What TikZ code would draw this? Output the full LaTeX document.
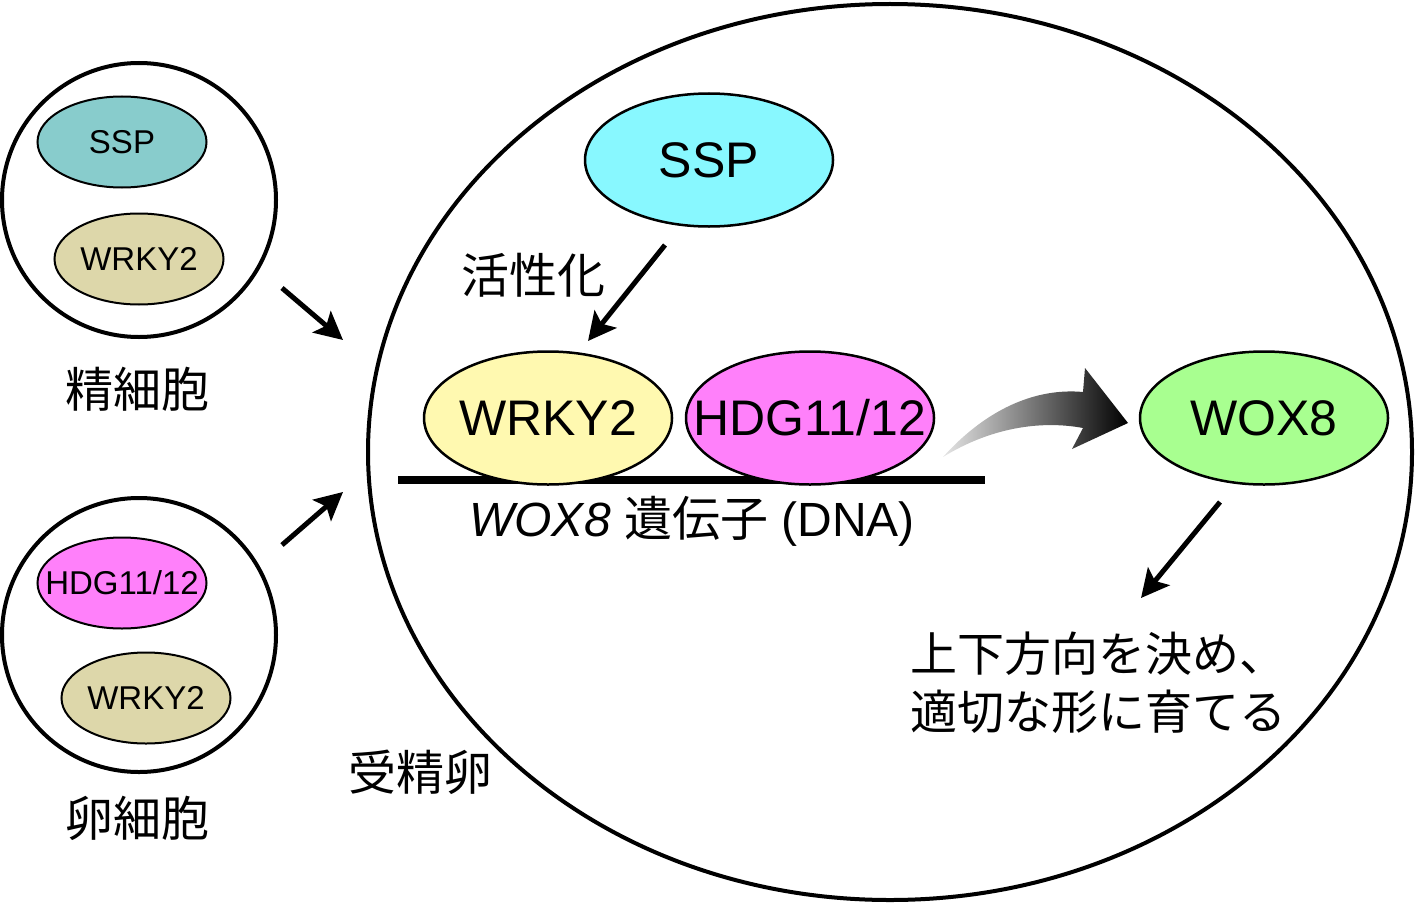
\documentclass[tikz,border=0pt]{standalone}
\usepackage{fontspec}
\setmainfont{Liberation Sans}
\newfontfamily\jp{Noto Sans CJK JP}
\usetikzlibrary{shapes.geometric}
\usetikzlibrary{arrows.meta}
\definecolor{sspteal}{HTML}{88CCCC}
\definecolor{sspcyan}{HTML}{88F8FF}
\definecolor{wrkykhaki}{HTML}{DDD7AA}
\definecolor{wrkyyellow}{HTML}{FFF9B0}
\definecolor{hdgpink}{HTML}{FF80FA}
\definecolor{woxgreen}{HTML}{A8FF90}
\newcommand{\zw}[1]{\makebox[0pt]{#1}}

\tikzset{
  prot/.style={shape=ellipse, draw=black, line width=1.25pt, inner sep=0pt},
  bigprot/.style={prot, minimum width=124pt, minimum height=66.5pt, font=\fontsize{25}{28}\selectfont},
  smallprot/.style={prot, line width=1pt, minimum width=84.5pt, minimum height=45.5pt, font=\fontsize{16.5}{18}\selectfont},
  cell/.style={shape=circle, draw=black, line width=2pt, minimum size=137pt, inner sep=0pt},
  jplabel/.style={font=\jp\fontsize{24}{27}\selectfont},
  pointer/.style={-{Stealth[length=14pt,width=14pt,inset=3pt]}, line width=2.5pt}
}

\begin{document}
\begin{tikzpicture}[x=0.5pt, y=-0.5pt]
\useasboundingbox (0,0) rectangle (1417,904);

\node [cell] (sperm) at (139,200) {};
\node [smallprot, fill=sspteal] (sspS) at (122,142) {\zw{SSP}};
\node [smallprot, fill=wrkykhaki] (wrkyS) at (139,259) {\zw{WRKY2}};
\node [jplabel] (spermlbl) at (137,389) {精細胞};

\node [cell] (egg) at (139,635) {};
\node [smallprot, fill=hdgpink] (hdgE) at (122,583) {\zw{HDG11/12}};
\node [smallprot, fill=wrkykhaki] (wrkyE) at (146,698) {\zw{WRKY2}};
\node [jplabel] (egglbl) at (137,818) {卵細胞};

\node [shape=ellipse, draw=black, line width=2pt, minimum width=522pt, minimum height=448pt] (zygote) at (890,452) {};
\node [jplabel] (zygotelbl) at (420,772) {受精卵};

\coordinate (dnaL) at (398,480);
\coordinate (dnaR) at (985,480);
\draw [line width=4pt] (dnaL) -- (dnaR);

\node [bigprot, fill=sspcyan] (ssp) at (709,160) {\zw{SSP}};
\node [bigprot, fill=wrkyyellow] (wrky) at (548,418) {\zw{WRKY2}};
\node [bigprot, fill=hdgpink] (hdg) at (810,418) {\zw{HDG11/12}};
\node [bigprot, fill=woxgreen] (wox) at (1264,418) {\zw{WOX8}};

\node [jplabel] (actlbl) at (533,275) {活性化};
\node [font=\fontsize{24}{27}\selectfont] (genelbl) at (692,521) {\textit{WOX8} {\jp 遺伝子} (DNA)};
\node [jplabel, anchor=west, align=left, font=\jp\fontsize{23.5}{27}\selectfont] (fatelbl) at (903,683) {上下方向を決め、\\[2pt]適切な形に育てる};

\coordinate (a1s) at (282,288);
\coordinate (a1e) at (343,340);
\coordinate (a2s) at (282,545);
\coordinate (a2e) at (343,492);
\coordinate (a3s) at (665,245);
\coordinate (a3e) at (588,341);
\coordinate (a4s) at (1220,502);
\coordinate (a4e) at (1141,598);

\draw [pointer] (a1s) -- (a1e);
\draw [pointer] (a2s) -- (a2e);
\draw [pointer] (a3s) -- (a3e);
\draw [pointer] (a4s) -- (a4e);

\shade [left color=gray!20, right color=black]
  (943,457) .. controls (990,405) and (1040,388) .. (1083,392)
  -- (1085,368) -- (1128,423) -- (1072,449) -- (1083,428)
  .. controls (1040,420) and (990,428) .. (943,457) -- cycle;
\end{tikzpicture}
\end{document}
